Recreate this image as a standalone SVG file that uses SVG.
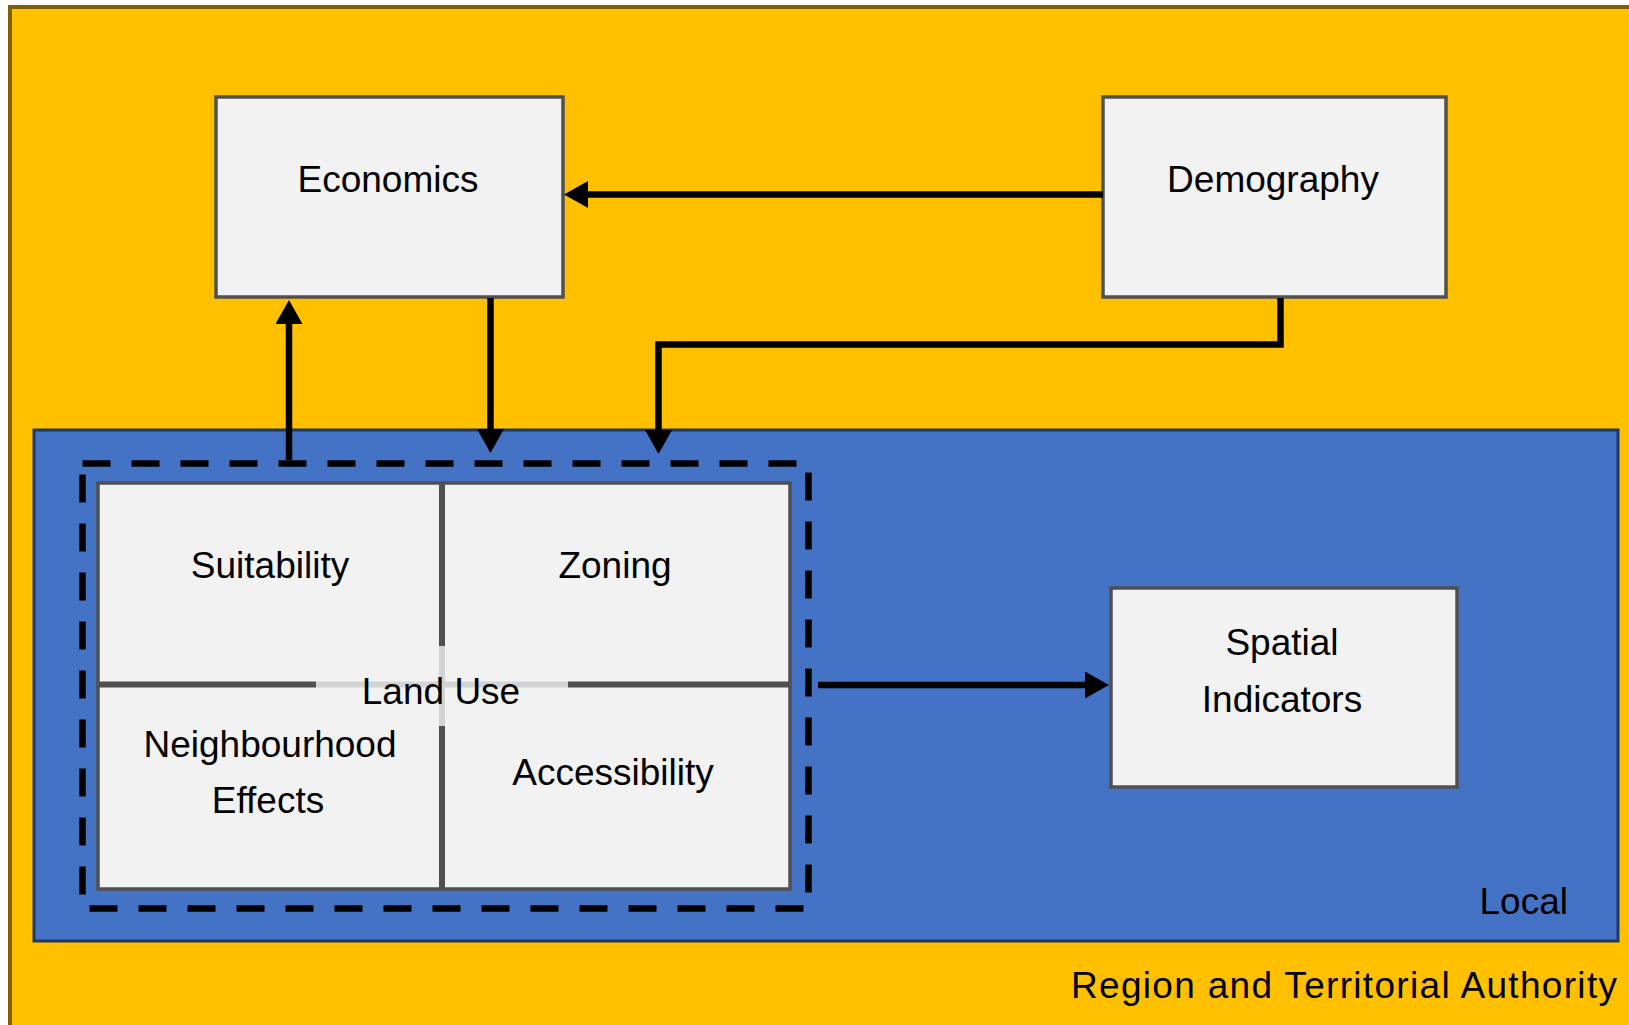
<svg xmlns="http://www.w3.org/2000/svg" width="1629" height="1025" viewBox="0 0 1629 1025">
  <style>
    text { font-family: "Liberation Sans", Arial, sans-serif; font-size: 37px; fill: #000; text-anchor: middle; }
    .box { fill: #f2f2f2; stroke: #505050; stroke-width: 3.5; }
    .divider { stroke: #505050; stroke-width: 6; }
    .divider-light { stroke: #d3d3d3; stroke-width: 6; }
    .conn { fill: none; stroke: #000; stroke-width: 6.5; stroke-linejoin: miter; marker-end: url(#head); }
  </style>
  <defs>
    <marker id="head" markerUnits="userSpaceOnUse" viewBox="0 0 24 27" markerWidth="24" markerHeight="27" refX="0" refY="13.5" orient="auto">
      <path d="M0,0 L24,13.5 L0,27 Z" fill="#000"/>
    </marker>
  </defs>

  <!-- regional layer -->
  <g id="region">
    <rect x="0" y="0" width="1629" height="1025" fill="#ffffff"/>
    <rect x="10" y="7" width="1640" height="1040" fill="#ffc000" stroke="#7f6000" stroke-width="4"/>
    <text x="1071" y="998" style="text-anchor:start" textLength="546" lengthAdjust="spacing">Region and Territorial Authority</text>
  </g>

  <!-- local layer -->
  <g id="local">
    <rect x="34" y="430" width="1584" height="511" fill="#4472c4" stroke="#1f3864" stroke-width="3"/>
    <text x="1568" y="914" style="text-anchor:end">Local</text>
  </g>

  <g id="economics">
    <rect class="box" x="216" y="97" width="347" height="200"/>
    <text x="388" y="192">Economics</text>
  </g>

  <g id="demography">
    <rect class="box" x="1103" y="97" width="343" height="200"/>
    <text x="1273" y="192">Demography</text>
  </g>

  <g id="land-use">
    <rect x="82.5" y="463.5" width="726" height="445" fill="none" stroke="#000" stroke-width="6.5" stroke-dasharray="28 21"/>
    <rect class="box" x="98" y="483" width="692" height="406"/>
    <line class="divider" x1="442" y1="483" x2="442" y2="646"/>
    <line class="divider" x1="442" y1="726" x2="442" y2="889"/>
    <line class="divider" x1="98" y1="684.5" x2="316" y2="684.5"/>
    <line class="divider" x1="568" y1="684.5" x2="790" y2="684.5"/>
    <line class="divider-light" x1="442" y1="646" x2="442" y2="726"/>
    <line class="divider-light" x1="316" y1="684.5" x2="568" y2="684.5"/>
    <text x="270" y="578">Suitability</text>
    <text x="615" y="578">Zoning</text>
    <text x="270" y="757">Neighbourhood</text>
    <text x="268" y="813">Effects</text>
    <text x="613" y="785">Accessibility</text>
    <text x="441" y="704">Land Use</text>
  </g>

  <g id="spatial-indicators">
    <rect class="box" x="1111" y="588" width="346" height="199"/>
    <text x="1282" y="655">Spatial</text>
    <text x="1282" y="712">Indicators</text>
  </g>

  <g id="connectors">
    <path class="conn" d="M1103,194.5 H588"/>
    <path class="conn" d="M289,460 V324"/>
    <path class="conn" d="M490.5,298 V429"/>
    <path class="conn" d="M1280.5,298 V344.5 H658.5 V430"/>
    <path class="conn" d="M818,685 H1085"/>
  </g>
</svg>
